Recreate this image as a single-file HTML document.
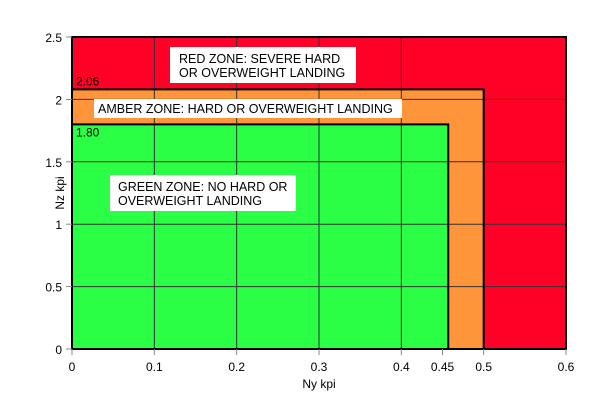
<!DOCTYPE html>
<html><head><meta charset="utf-8"><style>
body{margin:0;background:#fff;font-family:"Liberation Sans",sans-serif}
svg text{font-family:"Liberation Sans",sans-serif;fill:#000}
</style></head><body>
<svg id="c" width="610" height="408"></svg>
<script>
const xTicks=[0,0.1,0.2,0.3,0.4,0.45,0.5,0.6];
const xTickLabels=["0","0.1","0.2","0.3","0.4","0.45","0.5","0.6"];
const yTicks=[0,0.5,1,1.5,2,2.5];
const yTickLabels=["0","0.5","1","1.5","2","2.5"];
const zoneNames=["red-zone","amber-zone","green-zone"];
const zoneNy=[0.6,0.5,0.457];
const zoneNz=[2.5,2.08,1.80];
const zoneColors=["#ff0027","#ff953a","#2aff45"];
const limitLabels=["","2.06","1.80"];
const X0=72,X1=566,Y0=349,Y1=37;
const x=v=>X0+(v/0.6)*(X1-X0);
const y=v=>Y0-(v/2.5)*(Y0-Y1);
const svg=document.getElementById('c');
const NS='http://www.w3.org/2000/svg';
function mk(t,a){const e=document.createElementNS(NS,t);for(const k in a)e.setAttribute(k,a[k]);svg.appendChild(e);return e;}
for(let i=0;i<zoneNames.length;i++){
  const r=mk('rect',{x:X0,y:y(zoneNz[i]),width:x(zoneNy[i])-X0,height:Y0-y(zoneNz[i]),fill:zoneColors[i]});
  
  
}
[0.1,0.2,0.3,0.4].forEach(v=>{const l=mk('line',{x1:x(v),x2:x(v),y1:Y1,y2:Y0,stroke:'#333','stroke-width':1});
});
[0.5,1,1.5,2].forEach(v=>{const l=mk('line',{x1:X0,x2:X1,y1:y(v),y2:y(v),stroke:'#333','stroke-width':1});
});
for(let i=1;i<zoneNames.length;i++){
  const p=mk('polyline',{points:`${X0},${y(zoneNz[i])} ${x(zoneNy[i])},${y(zoneNz[i])} ${x(zoneNy[i])},${Y0}`,fill:'none',stroke:'#000','stroke-width':2});
  
  const t=mk('text',{x:X0+4,y:i==2?y(zoneNz[i])+12:y(zoneNz[i])-4,'font-size':12});
  t.textContent=limitLabels[i];
  
}
const frame=mk('rect',{x:X0,y:Y1,width:X1-X0,height:Y0-Y1,fill:'none',stroke:'#000','stroke-width':2});

xTicks.forEach((v,i)=>{const l=mk('line',{x1:x(v),x2:x(v),y1:Y0,y2:Y0+6,stroke:'#888'});

const t=mk('text',{x:x(v),y:Y0+22,'font-size':12,'text-anchor':'middle'});t.textContent=xTickLabels[i];
});
yTicks.forEach((v,i)=>{const l=mk('line',{x1:X0-6,x2:X0,y1:y(v),y2:y(v),stroke:'#888'});

const t=mk('text',{x:X0-10,y:y(v)+5,'font-size':12,'text-anchor':'end'});t.textContent=yTickLabels[i];
});
</script>
<svg width="610" height="408" style="position:absolute;left:0;top:0">
<rect x="170" y="47" width="186" height="36" fill="#fff"/>
<text x="179" y="63" font-size="12.5">RED ZONE: SEVERE HARD</text>
<text x="179" y="77" font-size="12.5">OR OVERWEIGHT LANDING</text>
<rect x="94" y="99" width="308" height="19" fill="#fff"/>
<text x="98" y="113" font-size="12.5">AMBER ZONE: HARD OR OVERWEIGHT LANDING</text>
<rect x="110" y="175" width="186" height="36" fill="#fff"/>
<text x="118" y="191" font-size="12.5">GREEN ZONE: NO HARD OR</text>
<text x="118" y="205" font-size="12.5">OVERWEIGHT LANDING</text>
<text x="319" y="388" font-size="12" text-anchor="middle">Ny kpi</text>
<text x="64" y="193" font-size="12" text-anchor="middle" transform="rotate(-90 64 193)">Nz kpi</text>
</svg>
</body></html>
